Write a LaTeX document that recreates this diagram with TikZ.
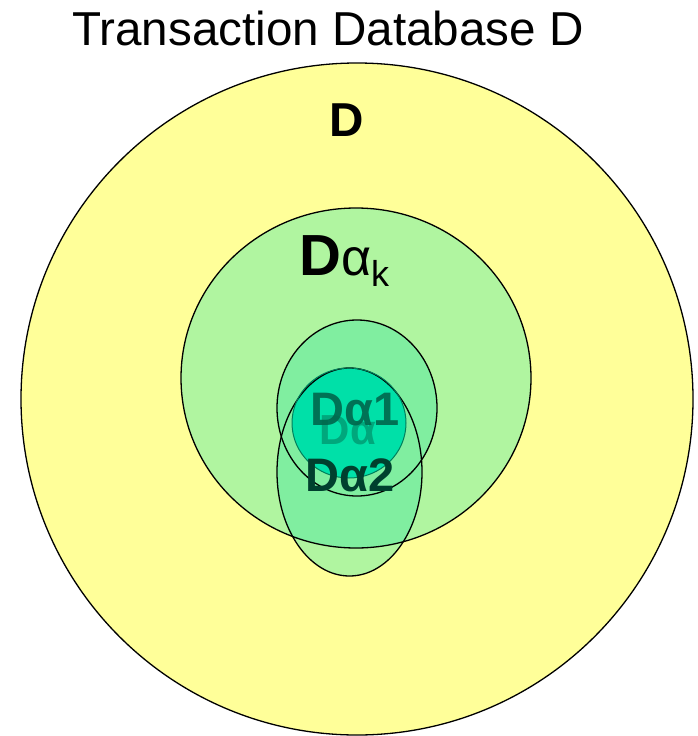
\documentclass[tikz,border=0pt]{standalone}
\usepackage{fontspec}
\setmainfont{Liberation Sans}
\definecolor{dbyellow}{HTML}{FFFF99}
\definecolor{dblight}{HTML}{B0F5A0}
\definecolor{dbmid}{HTML}{80EEA0}
\definecolor{dbinner}{HTML}{00E0A8}
\definecolor{dbedge}{HTML}{00805C}
\definecolor{labone}{HTML}{00674C}
\definecolor{labback}{HTML}{00A77C}
\definecolor{labtwo}{HTML}{00402E}

\begin{document}
\begin{tikzpicture}[x=1pt,y=-1pt,
	setline/.style={line width=1.3pt,draw=black},
	setlabel/.style={inner sep=0pt,anchor=center}]
		\useasboundingbox (0,0) rectangle (697,736);
		% whole database
		\filldraw[fill=dbyellow,setline] (357,399) circle [radius=336];
		% D alpha_k
		\fill[dblight] (356,378) ellipse [x radius=175,y radius=170];
		\fill[dblight] (349.5,472) ellipse [x radius=72.5,y radius=104];
		% overlap of the two subsets inside D alpha_k
		\begin{scope}
			\clip (356,378) ellipse [x radius=175,y radius=170];
			\fill[dbmid] (357,408) ellipse [x radius=80,y radius=88];
			\fill[dbmid] (349.5,472) ellipse [x radius=72.5,y radius=104];
		\end{scope}
		% D alpha
		\fill[dbinner] (349,423) ellipse [x radius=57,y radius=55];
		% outlines
		\draw[setline] (356,378) ellipse [x radius=175,y radius=170];
		\draw[setline] (357,408) ellipse [x radius=80,y radius=88];
		\draw[setline] (349.5,472) ellipse [x radius=72.5,y radius=104];
		\draw[line width=1pt,dbedge] (349,423) ellipse [x radius=57,y radius=55];

		% labels
		\node[setlabel] (title) at (328,28) {\fontsize{47.6}{50}\selectfont Transaction Database D};
		\node[setlabel] (dlab) at (347,120) {\fontsize{47.6}{50}\selectfont\bfseries D};
		\node[setlabel,anchor=base west] (dklab) at (299,275)
			{\fontsize{58}{60}\selectfont\textbf{D}{\fontsize{52}{54}\selectfont α}\raisebox{-0.2em}{\fontsize{36}{38}\selectfont k}};
		\node[setlabel,labback] (dalab) at (348,430) {\fontsize{42}{44}\selectfont\bfseries Dα};
		\node[setlabel,labone,opacity=0.9] (d1lab) at (355,410) {\fontsize{47}{50}\selectfont\bfseries Dα1};
		\node[setlabel,labtwo] (d2lab) at (350,475) {\fontsize{47}{50}\selectfont\bfseries Dα2};
\end{tikzpicture}
\end{document}
